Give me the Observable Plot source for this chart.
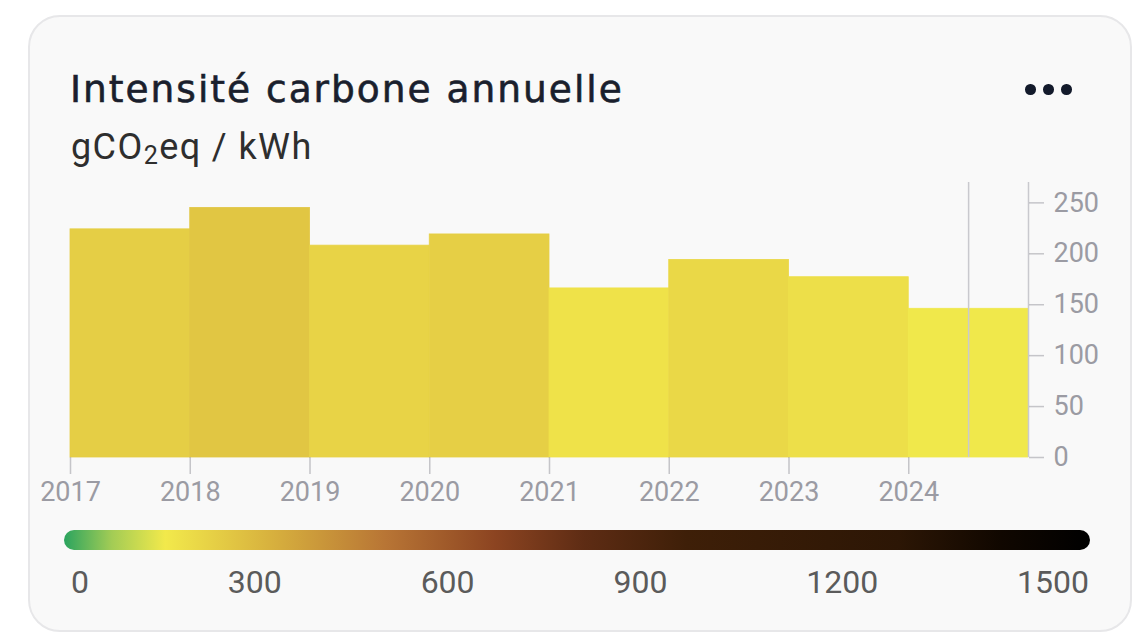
<!DOCTYPE html>
<html>
<head>
<meta charset="utf-8">
<script src="https://cdn.jsdelivr.net/npm/d3@7"></script>
<script src="https://cdn.jsdelivr.net/npm/@observablehq/plot@0.6"></script>
<style>
  html, body { margin: 0; padding: 0; background: #ffffff; }
  body { width: 1137px; height: 636px; position: relative; overflow: hidden; font-family: Roboto, "Noto Sans", sans-serif; }
  #card { position: absolute; left: 28px; top: 15px; width: 1104px; height: 617px; box-sizing: border-box;
          border: 2px solid #e7e7e9; border-radius: 32px; background: #f9f9f9; }
  #title { position: absolute; left: 70px; top: 69px; font-family: "DejaVu Sans", sans-serif; font-weight: normal; font-size: 37.5px; line-height: 40px; letter-spacing: 2px; color: #1a1f2d; white-space: nowrap; -webkit-text-stroke: 0.6px #1a1f2d; }
  #subtitle { position: absolute; left: 71px; top: 127px; font-family: Roboto, sans-serif; font-size: 36px; line-height: 40px; color: #2e2e2e; white-space: nowrap; letter-spacing: 1.4px; }
  #subtitle sub { font-size: 0.7em; vertical-align: -0.2em; line-height: 0; }
  #dots { position: absolute; left: 1025px; top: 84px; display: flex; gap: 7.5px; }
  #dots span { width: 10.5px; height: 10.5px; border-radius: 50%; background: #131a2b; display: block; }
  #chart { position: absolute; left: 0; top: 0; }
  #ramp { position: absolute; left: 64px; top: 530px; width: 1026px; height: 20px; border-radius: 10px; }
  #rampLabels { position: absolute; left: 71px; top: 566px; width: 1018px; display: flex; justify-content: space-between;
                font-family: Roboto, sans-serif; font-size: 32px; line-height: 32px; color: #5b5b5b; }
</style>
</head>
<body>
<div id="card"></div>
<div id="title">Intensité carbone annuelle</div>
<div id="subtitle">gCO<sub>2</sub>eq / kWh</div>
<div id="dots"><span></span><span></span><span></span></div>
<div id="chart"></div>
<div id="ramp"></div>
<div id="rampLabels"></div>
<script>
// ---- data ----
const years = [2017, 2018, 2019, 2020, 2021, 2022, 2023, 2024];
const values = [224, 245, 208, 219, 166, 194, 177, 146];
const yTicks = [0, 50, 100, 150, 200, 250];
const nowMarker = [2024.5];
const colorStops = [0, 70, 148, 300, 470, 630, 760, 910, 1220, 1370, 1500];
const colorRamp = ["#2ba45f", "#a3cc55", "#f2e94b", "#d8b23e", "#b87535", "#8c4421", "#5e2c14", "#3e1f08", "#2c1605", "#100700", "#000000"];
const rampLabels = [0, 300, 600, 900, 1200, 1500];

const data = years.map((year, i) => ({year, next: year + 1, value: values[i]}));

const W = 1137, H = 520;
const chart = Plot.plot({
  width: W,
  height: H,
  marginLeft: 70,
  marginRight: 109,
  marginTop: 182,
  marginBottom: H - 457,
  style: {background: "transparent", fontFamily: "Roboto, sans-serif", overflow: "visible"},
  x: {type: "linear", domain: [2017, 2025]},
  y: {domain: [0, 270]},
  color: {type: "linear", domain: colorStops, range: colorRamp},
  marks: [
    Plot.rectY(data, {x1: "year", x2: "next", y: "value", fill: "value", stroke: "value", strokeWidth: 0.8}),
    Plot.ruleX(nowMarker, {stroke: "#c9c9ce", strokeWidth: 1.5}),
    Plot.ruleX([2025], {stroke: "#c9c9ce", strokeWidth: 1.5}),
    Plot.axisX({ticks: years, tickFormat: d => String(d), tickSize: 17, tickPadding: 7, fontSize: 27,
                color: "#9b9ba3", strokeOpacity: 0.55, strokeWidth: 1.5, label: null}),
    Plot.axisY({anchor: "right", ticks: yTicks, tickSize: 15, tickPadding: 10, fontSize: 27,
                color: "#9b9ba3", strokeOpacity: 0.55, strokeWidth: 1.5, label: null})
  ]
});
document.getElementById("chart").appendChild(chart);

// ---- colour ramp legend built from the same stops ----
const maxV = colorStops[colorStops.length - 1];
const grad = colorStops.map((v, i) => `${colorRamp[i]} ${(v / maxV * 100).toFixed(2)}%`).join(", ");
document.getElementById("ramp").style.background = `linear-gradient(to right, ${grad})`;
const lab = document.getElementById("rampLabels");
rampLabels.forEach(v => { const s = document.createElement("span"); s.textContent = v; lab.appendChild(s); });
</script>
</body>
</html>
